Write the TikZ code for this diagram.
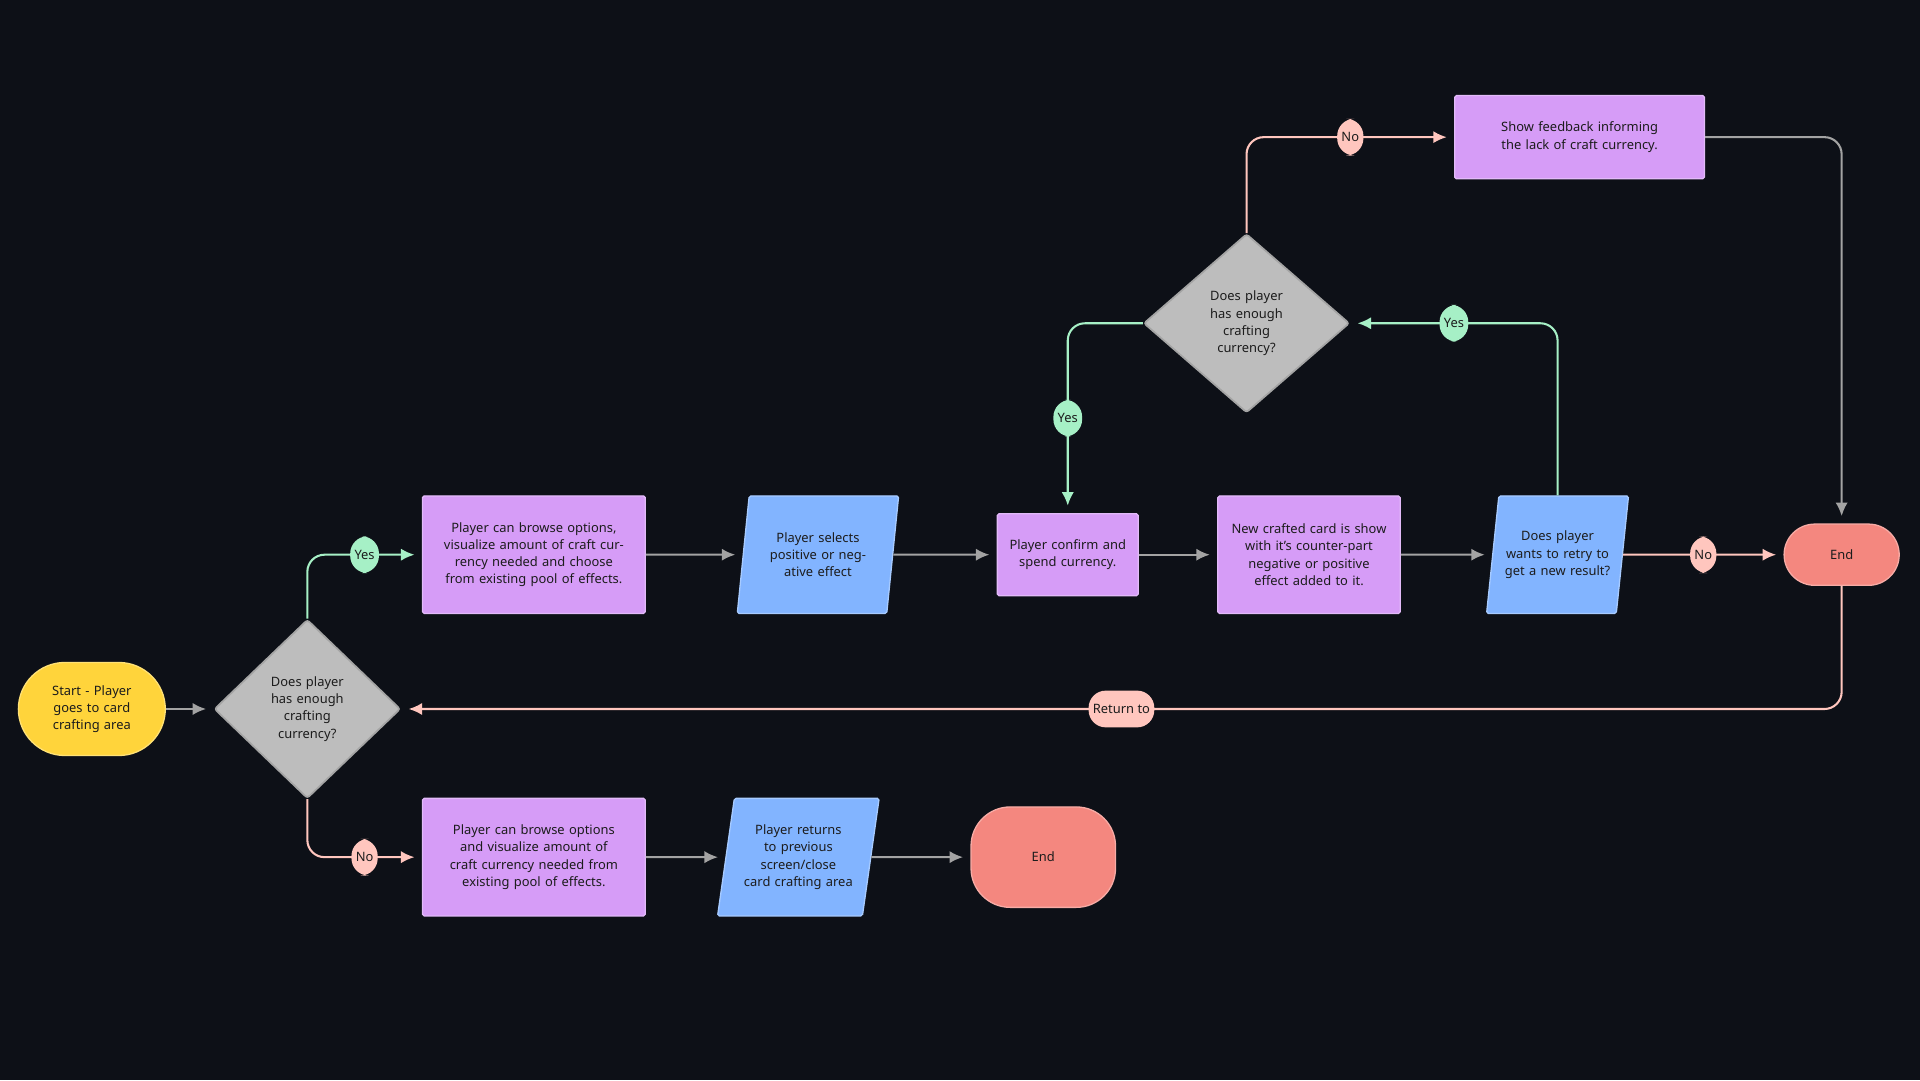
\documentclass[tikz,border=0pt]{standalone}
\usepackage{fontspec}
\setmainfont{Noto Sans}
\usetikzlibrary{shapes.geometric, arrows.meta, positioning}
\definecolor{bgdark}{HTML}{0D1017}
\definecolor{stepviolet}{HTML}{D69CF7}
\definecolor{stepblue}{HTML}{82B4FF}
\definecolor{askgray}{HTML}{BDBDBD}
\definecolor{startyellow}{HTML}{FFD43B}
\definecolor{endred}{HTML}{F4877F}
\definecolor{yesgreen}{HTML}{A6F0C6}
\definecolor{nopink}{HTML}{FFC6BE}
\definecolor{linegray}{HTML}{A3A3A3}
\definecolor{inkdark}{HTML}{1C1C1C}

\begin{document}
\begin{tikzpicture}[
    x=0.05cm, y=-0.05cm,
    every node/.style={font=\fontsize{15}{19.9}\selectfont, text=inkdark, align=center},
    action/.style={rectangle, rounded corners=2pt, draw=stepviolet!70!white, line width=1.5pt, fill=stepviolet},
    choice/.style={trapezium, trapezium left angle=76, trapezium right angle=104, trapezium stretches=true, rounded corners=2pt, draw=stepblue!70!white, line width=1.5pt, fill=stepblue, inner sep=0pt},
    ask/.style={diamond, inner sep=0pt, rounded corners=3pt, draw=askgray!60!gray, line width=2pt, fill=askgray, text width=3.8cm},
    terminal/.style={rectangle, draw=endred!70!white, line width=1.5pt, fill=endred},
    yeslabel/.style={rectangle, fill=yesgreen, inner sep=5pt, minimum height=1.5cm},
    nolabel/.style={rectangle, fill=nopink, inner sep=5pt, minimum height=1.5cm},
    arrow/.style={line width=2.4pt, draw=linegray, shorten >=0.3cm, -{Latex[length=0.55cm, width=0.5cm]}},
    yesarrow/.style={arrow, draw=yesgreen, rounded corners=0.7cm},
    noarrow/.style={arrow, draw=nopink, rounded corners=0.7cm}
]
\fill[bgdark] (0,0) rectangle (1568,882);
\useasboundingbox (0,0) rectangle (1568,882);

% Start and first question
\node (start) [rectangle, rounded corners=1.9cm, fill=startyellow, draw=startyellow!70!white, line width=1.5pt, minimum width=6cm, minimum height=3.8cm, text width=5cm] at (75,579) {\textbf{Start} - Player goes to card crafting area};
\node (ask_funds) [ask, minimum width=7.6cm, minimum height=7.3cm] at (251,579) {Does player has enough crafting currency?};

% Upper row
\node (browse_pick) [action, minimum width=9.1cm, minimum height=4.8cm, text width=8.4cm] at (436,453) {Player can browse options, visualize amount of craft currency needed \textbf{and choose} from existing pool of effects.};
\node (select_effect) [choice, minimum width=6.6cm, minimum height=4.8cm, text width=5.2cm] at (668,453) {Player selects positive or negative effect};
\node (confirm) [action, minimum width=5.75cm, minimum height=3.35cm, text width=5cm] at (872,453) {Player confirm and spend currency.};
\node (new_card) [action, minimum width=7.45cm, minimum height=4.8cm, text width=6.8cm] at (1069,453) {New crafted card is show with it's counter-part negative or positive effect added to it.};
\node (ask_retry) [choice, minimum width=5.8cm, minimum height=4.8cm, text width=4.6cm] at (1272,453) {Does player wants to retry to get a new result?};
\node (end_top) [terminal, rounded corners=1.25cm, minimum width=4.7cm, minimum height=2.5cm] at (1504,453) {End};

% Retry question
\node (ask_retry_funds) [ask, minimum width=8.4cm, minimum height=7.3cm] at (1018,264) {Does player has enough crafting currency?};
\node (feedback) [action, minimum width=10.2cm, minimum height=3.4cm, text width=9.6cm] at (1290,112) {Show feedback informing the lack of craft currency.};

% Lower row
\node (browse_only) [action, minimum width=9.1cm, minimum height=4.8cm, text width=8.4cm] at (436,700) {Player can browse options and visualize amount of craft currency needed from existing pool of effects.};
\node (leave) [choice, minimum width=6.6cm, minimum height=4.8cm, text width=5cm] at (652,700) {Player returns to previous screen/close card crafting area};
\node (end_bottom) [terminal, rounded corners=1.6cm, minimum width=5.9cm, minimum height=4.1cm] at (852,700) {End};

% Arrows
\draw [arrow] (start) -- (ask_funds);
\draw [yesarrow] (ask_funds.north) |- node[yeslabel, pos=0.75] {Yes} (browse_pick.west);
\draw [noarrow] (ask_funds.south) |- node[nolabel, pos=0.75] {No} (browse_only.west);
\draw [arrow] (browse_pick) -- (select_effect);
\draw [arrow] (select_effect) -- (confirm);
\draw [arrow] (confirm) -- (new_card);
\draw [arrow] (new_card) -- (ask_retry);
\draw [noarrow] (ask_retry) -- node[nolabel] {No} (end_top);
\draw [yesarrow] (ask_retry.north) |- node[yeslabel, pos=0.75] {Yes} (ask_retry_funds.east);
\draw [yesarrow] (ask_retry_funds.west) -| node[yeslabel, pos=0.75] {Yes} (confirm.north);
\draw [noarrow] (ask_retry_funds.north) |- node[nolabel, pos=0.75] {No} (feedback.west);
\draw [arrow, rounded corners=0.7cm] (feedback.east) -| (end_top.north);
\draw [noarrow] (end_top.south) |- node[nolabel, pos=0.75] {Return to} (ask_funds.east);
\draw [arrow] (browse_only) -- (leave);
\draw [arrow] (leave) -- (end_bottom);

\end{tikzpicture}
\end{document}
